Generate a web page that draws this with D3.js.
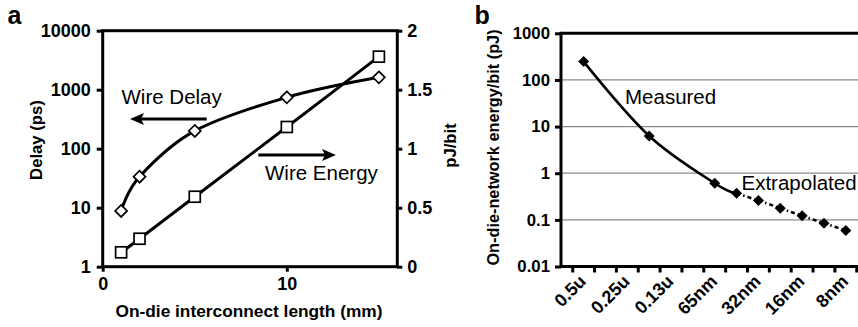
<!DOCTYPE html>
<html><head><meta charset="utf-8">
<script src="https://cdn.jsdelivr.net/npm/d3@7"></script>
<style>
html,body{margin:0;padding:0;background:#fff;}
svg{display:block;font-family:"Liberation Sans",Arial,sans-serif;}
</style></head>
<body>
<svg id="chart" width="858" height="327"></svg>
<script>
// ---------- Panel a data ----------
const lengthsMm = [1, 2, 5, 10, 15];
const wireDelayPs = [8.8, 33.5, 200, 742, 1620];
const wireEnergyPJ = [0.122, 0.237, 0.593, 1.184, 1.78];
const delayTicks = [1, 10, 100, 1000, 10000];
const energyTicks = [0, 0.5, 1, 1.5, 2];
const lengthTicks = [0, 10];

// ---------- Panel b data ----------
const nodes = ["0.5u","0.35u","0.25u","0.18u","0.13u","90nm","65nm","45nm","32nm","22nm","16nm","11nm","8nm"];
const labeledNodes = ["0.5u","0.25u","0.13u","65nm","32nm","16nm","8nm"];
const measuredNodes = ["0.5u","0.18u","65nm","45nm"];
const measuredPJ = [247, 6.3, 0.61, 0.37];
const extrapNodes = ["45nm","32nm","22nm","16nm","11nm","8nm"];
const extrapPJ = [0.37, 0.26, 0.178, 0.122, 0.085, 0.059];
const energyBitTicks = [0.01, 0.1, 1, 10, 100, 1000];
const gridTicks = [0.1, 1, 10, 100];

const svg = d3.select("#chart");
const fmt = d => String(d);

// ================= Panel a =================
const aL = 102.7, aR = 397.3, aT = 30.7, aB = 266.7;
const xA = d3.scaleLinear().domain([0, 16]).range([aL, aR]);
const yDelay = d3.scaleLog().domain([1, 10000]).range([aB, aT]);
const yEnergy = d3.scaleLinear().domain([0, 2]).range([aB, aT]);

const gA = svg.append("g");
gA.append("rect").attr("x", aL).attr("y", aT).attr("width", aR - aL).attr("height", aB - aT)
  .attr("fill", "none").attr("stroke", "#000").attr("stroke-width", 3);

const axL = gA.append("g").attr("transform", `translate(${aL},0)`)
  .call(d3.axisLeft(yDelay).tickValues(delayTicks).tickFormat(fmt).tickSize(6).tickPadding(6));
const axR = gA.append("g").attr("transform", `translate(${aR},0)`)
  .call(d3.axisRight(yEnergy).tickValues(energyTicks).tickFormat(fmt).tickSize(5).tickPadding(5));
const axB = gA.append("g").attr("transform", `translate(0,${aB})`)
  .call(d3.axisBottom(xA).tickValues(lengthTicks).tickFormat(fmt).tickSize(5).tickPadding(6));

[axL, axR, axB].forEach(ax => {
  ax.select(".domain").remove();
  ax.selectAll(".tick line").attr("stroke", "#000").attr("stroke-width", 3);
  ax.selectAll(".tick text").attr("fill", "#000").attr("font-size", 18).attr("font-weight", "bold")
    .attr("font-family", "Liberation Sans, Arial, sans-serif");
});

const curve = d3.curveCardinal.tension(0);
const delayLine = d3.line().x((d, i) => xA(lengthsMm[i])).y(d => yDelay(d)).curve(curve);
const energyLine = d3.line().x((d, i) => xA(lengthsMm[i])).y(d => yEnergy(d)).curve(curve);

gA.append("path").attr("d", delayLine(wireDelayPs)).attr("fill", "none").attr("stroke", "#000").attr("stroke-width", 3);
gA.append("path").attr("d", energyLine(wireEnergyPJ)).attr("fill", "none").attr("stroke", "#000").attr("stroke-width", 3);

gA.selectAll(".dm").data(wireDelayPs).join("path")
  .attr("transform", (d, i) => `translate(${xA(lengthsMm[i])},${yDelay(d)})`)
  .attr("d", "M0,-6L6,0L0,6L-6,0Z").attr("fill", "#fff").attr("stroke", "#000").attr("stroke-width", 1.7);
gA.selectAll(".sq").data(wireEnergyPJ).join("rect")
  .attr("x", (d, i) => xA(lengthsMm[i]) - 5.5).attr("y", d => yEnergy(d) - 5.5)
  .attr("width", 11).attr("height", 11).attr("fill", "#fff").attr("stroke", "#000").attr("stroke-width", 1.7);

gA.append("text").attr("x", 121.5).attr("y", 103.5).attr("font-size", 20.5).text("Wire Delay");
gA.append("text").attr("x", 265).attr("y", 180).attr("font-size", 20.5).text("Wire Energy");
function arrow(x1, x2, y) {
  const dir = Math.sign(x2 - x1);
  gA.append("line").attr("x1", x1).attr("y1", y).attr("x2", x2 - dir * 10).attr("y2", y)
    .attr("stroke", "#000").attr("stroke-width", 3);
  gA.append("path").attr("d", `M${x2},${y}L${x2 - dir * 14},${y - 6}L${x2 - dir * 11},${y}L${x2 - dir * 14},${y + 6}Z`)
    .attr("fill", "#000");
}
arrow(206.7, 130, 119);
arrow(258.3, 336, 155);

gA.append("text").attr("transform", "translate(41.5,140) rotate(-90)").attr("text-anchor", "middle")
  .attr("font-size", 16.7).attr("font-weight", "bold").text("Delay (ps)");
gA.append("text").attr("transform", "translate(456,145.5) rotate(-90)").attr("text-anchor", "middle")
  .attr("font-size", 16.7).attr("font-weight", "bold").text("pJ/bit");
gA.append("text").attr("x", 249).attr("y", 316.5).attr("text-anchor", "middle")
  .attr("font-size", 17.3).attr("font-weight", "bold").text("On-die interconnect length (mm)");
gA.append("text").attr("x", 7.5).attr("y", 24).attr("font-size", 25).attr("font-weight", "bold").text("a");

// ================= Panel b =================
const bL = 561, bR = 858, bT = 33.3, bB = 266.5;
const xB = d3.scaleBand().domain(nodes).range([572.7, 572.7 + 21.85 * nodes.length]).padding(0);
const yB = d3.scaleLog().domain([0.01, 1000]).range([bB, bT]);
const cx = n => xB(n) + xB.bandwidth() / 2;

const gB = svg.append("g");
gB.selectAll(".grid").data(gridTicks).join("line")
  .attr("x1", bL).attr("x2", bR).attr("y1", d => yB(d)).attr("y2", d => yB(d))
  .attr("stroke", "#8a8a8a").attr("stroke-width", 1.3);

gB.append("line").attr("x1", bL).attr("x2", bR).attr("y1", bT).attr("y2", bT).attr("stroke", "#000").attr("stroke-width", 3);
gB.append("line").attr("x1", bL).attr("x2", bR).attr("y1", bB).attr("y2", bB).attr("stroke", "#000").attr("stroke-width", 3);
gB.append("line").attr("x1", bL).attr("x2", bL).attr("y1", bT - 1.5).attr("y2", bB + 1.5).attr("stroke", "#000").attr("stroke-width", 3);

const axBL = gB.append("g").attr("transform", `translate(${bL},0)`)
  .call(d3.axisLeft(yB).tickValues(energyBitTicks).tickFormat(fmt).tickSize(6).tickPadding(5));
axBL.select(".domain").remove();
axBL.selectAll(".tick line").attr("stroke", "#000").attr("stroke-width", 3);
axBL.selectAll(".tick text").attr("fill", "#000").attr("font-size", 16.8).attr("font-weight", "bold")
  .attr("font-family", "Liberation Sans, Arial, sans-serif");

const boundaries = nodes.map(n => xB(n)).concat([xB(nodes[nodes.length - 1]) + xB.bandwidth()]);
gB.selectAll(".btick").data(boundaries).join("line")
  .attr("x1", d => d).attr("x2", d => d).attr("y1", bB).attr("y2", bB + 6)
  .attr("stroke", "#000").attr("stroke-width", 3);

gB.selectAll(".clab").data(labeledNodes).join("text")
  .attr("transform", d => `translate(${cx(d) + 3.5},282.5) rotate(-45)`)
  .attr("text-anchor", "end").attr("font-size", 18).attr("font-weight", "bold").text(d => d);

const lineB = d3.line().x(d => d.x).y(d => yB(d.v)).curve(curve);
const measPts = measuredNodes.map((n, i) => ({ x: cx(n), v: measuredPJ[i] }));
const extPts = extrapNodes.map((n, i) => ({ x: cx(n), v: extrapPJ[i] }));
gB.append("path").attr("d", lineB(measPts)).attr("fill", "none").attr("stroke", "#000").attr("stroke-width", 2.6);
gB.append("path").attr("d", lineB(extPts)).attr("fill", "none").attr("stroke", "#000").attr("stroke-width", 2.6)
  .attr("stroke-dasharray", "4,3,1.5,3");
const allPts = measPts.concat(extPts.slice(1));
gB.selectAll(".bd").data(allPts).join("path")
  .attr("transform", d => `translate(${d.x},${yB(d.v)})`)
  .attr("d", "M0,-5.5L5.5,0L0,5.5L-5.5,0Z").attr("fill", "#000");

gB.append("text").attr("x", 625).attr("y", 104).attr("font-size", 20.5).text("Measured");
gB.append("text").attr("x", 741.5).attr("y", 190).attr("font-size", 20.5).text("Extrapolated");

gB.append("text").attr("transform", "translate(499,147.5) rotate(-90)").attr("text-anchor", "middle")
  .attr("font-size", 16.3).attr("font-weight", "bold").text("On-die-network energy/bit (pJ)");
gB.append("text").attr("x", 474.5).attr("y", 23.5).attr("font-size", 25).attr("font-weight", "bold").text("b");
</script>
</body></html>
